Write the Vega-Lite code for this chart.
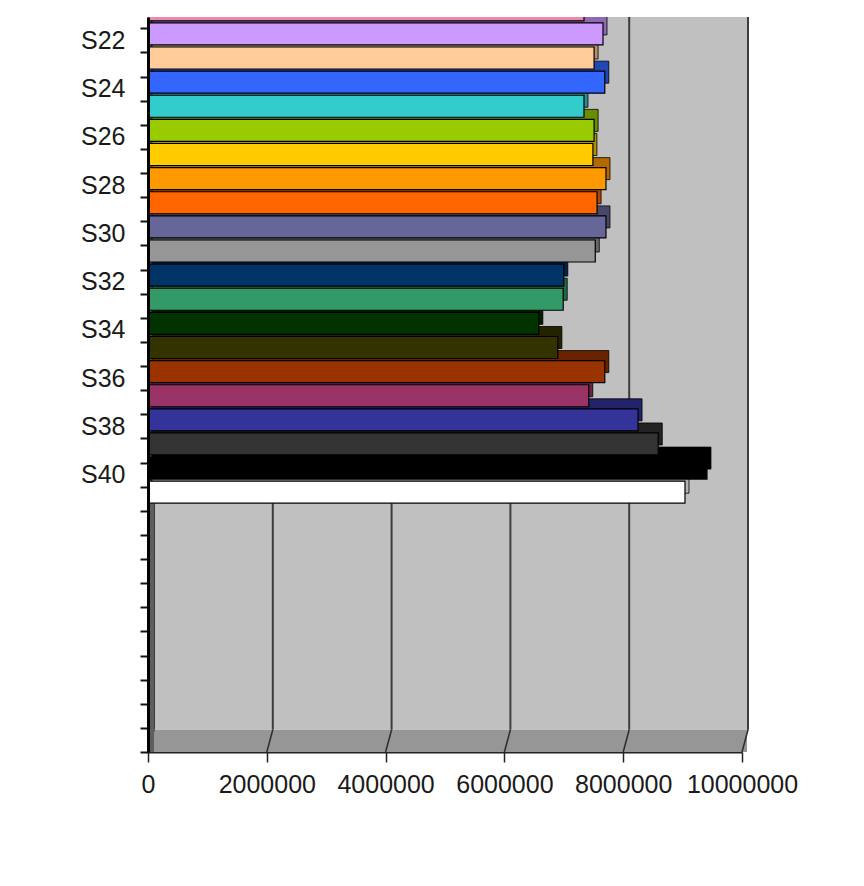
{
  "$schema": "https://vega.github.io/schema/vega-lite/v6.json",
  "width": 594,
  "height": 735,
  "autosize": {"type": "none"},
  "padding": {"left": 148, "top": 17, "right": 122, "bottom": 134},
  "background": "white",
  "config": {"view": {"stroke": null}, "font": "Liberation Sans"},
  "datasets": {
    "bars": [
      {"series": "S21", "n": 21, "value": 7340000},
      {"series": "S22", "n": 22, "value": 7660000},
      {"series": "S23", "n": 23, "value": 7510000},
      {"series": "S24", "n": 24, "value": 7690000},
      {"series": "S25", "n": 25, "value": 7340000},
      {"series": "S26", "n": 26, "value": 7510000},
      {"series": "S27", "n": 27, "value": 7490000},
      {"series": "S28", "n": 28, "value": 7710000},
      {"series": "S29", "n": 29, "value": 7560000},
      {"series": "S30", "n": 30, "value": 7710000},
      {"series": "S31", "n": 31, "value": 7530000},
      {"series": "S32", "n": 32, "value": 7000000},
      {"series": "S33", "n": 33, "value": 6990000},
      {"series": "S34", "n": 34, "value": 6580000},
      {"series": "S35", "n": 35, "value": 6900000},
      {"series": "S36", "n": 36, "value": 7690000},
      {"series": "S37", "n": 37, "value": 7420000},
      {"series": "S38", "n": 38, "value": 8250000},
      {"series": "S39", "n": 39, "value": 8590000},
      {"series": "S40", "n": 40, "value": 9410000},
      {"series": "S41", "n": 41, "value": 9040000}
    ],
    "grid": [
      {"g": 0}, {"g": 2000000}, {"g": 4000000}, {"g": 6000000}, {"g": 8000000}, {"g": 10000000}
    ]
  },
  "layer": [
    {
      "data": {"values": [{}]},
      "mark": {"type": "rect", "fill": "#c0c0c0", "xOffset": 6, "x2Offset": 6},
      "encoding": {
        "x": {"datum": 0, "type": "quantitative", "scale": {"domain": [0, 10000000], "nice": false, "zero": true, "padding": 0},
          "axis": {"title": null, "values": [0, 2000000, 4000000, 6000000, 8000000, 10000000], "tickCount": 20, "format": "d",
            "labelFontSize": 25, "labelColor": "#1a1a1a", "labelPadding": 10, "labelFlush": false, "labelOverlap": false,
            "tickSize": 10, "tickColor": "#222222", "tickWidth": 1.5, "domain": true, "domainColor": "#222222", "domainWidth": 2, "grid": false}},
        "x2": {"datum": 10000000},
        "y": {"datum": 21.03, "type": "quantitative", "scale": {"domain": [21.03, 51.5], "reverse": true, "nice": false, "zero": false, "padding": 0},
          "axis": {"title": null, "zindex": 1,
            "values": [21.5, 22.5, 23.5, 24.5, 25.5, 26.5, 27.5, 28.5, 29.5, 30.5, 31.5, 32.5, 33.5, 34.5, 35.5, 36.5, 37.5, 38.5, 39.5, 40.5, 41.5, 42.5, 43.5, 44.5, 45.5, 46.5, 47.5, 48.5, 49.5, 50.5, 51.5],
            "tickCount": 60,
            "labelExpr": "((datum.value - 0.5) % 2 == 0 && datum.value < 41) ? 'S' + (datum.value - 0.5) : ''",
            "labelOffset": -12, "labelFontSize": 25, "labelColor": "#1a1a1a", "labelPadding": 15, "labelOverlap": false, "labelFlush": false, "labelBound": false,
            "tickSize": 8, "tickWidth": 2, "tickColor": "#111111", "domain": true, "domainColor": "#000000", "domainWidth": 3, "grid": false}},
        "y2": {"datum": 50.58}
      }
    },
    {
      "data": {"name": "grid"},
      "mark": {"type": "rule", "color": "#3c3c3c", "strokeWidth": 2, "xOffset": 6},
      "encoding": {
        "x": {"field": "g", "type": "quantitative", "scale": {"domain": [0, 10000000], "nice": false, "zero": true, "padding": 0}},
        "y": {"datum": 21.03, "type": "quantitative", "scale": {"domain": [21.03, 51.5], "reverse": true, "nice": false, "zero": false, "padding": 0}},
        "y2": {"datum": 50.58}
      }
    },
    {
      "data": {"values": [{}]},
      "mark": {"type": "rect", "fill": "#969696", "x2Offset": 5},
      "encoding": {
        "x": {"datum": 0, "type": "quantitative", "scale": {"domain": [0, 10000000], "nice": false, "zero": true, "padding": 0}},
        "x2": {"datum": 10000000},
        "y": {"datum": 50.58, "type": "quantitative", "scale": {"domain": [21.03, 51.5], "reverse": true, "nice": false, "zero": false, "padding": 0}},
        "y2": {"datum": 51.5}
      }
    },
    {
      "data": {"name": "grid"},
      "mark": {"type": "rule", "color": "#2c2c2c", "strokeWidth": 1.5, "xOffset": 6},
      "encoding": {
        "x": {"field": "g", "type": "quantitative", "scale": {"domain": [0, 10000000], "nice": false, "zero": true, "padding": 0}},
        "x2": {"field": "g"},
        "y": {"datum": 50.58, "type": "quantitative", "scale": {"domain": [21.03, 51.5], "reverse": true, "nice": false, "zero": false, "padding": 0}},
        "y2": {"datum": 51.5}
      }
    },
    {
      "data": {"values": [{}]},
      "mark": {"type": "rect", "fill": "#5e5e5e", "x2Offset": 6},
      "encoding": {
        "x": {"datum": 0, "type": "quantitative", "scale": {"domain": [0, 10000000], "nice": false, "zero": true, "padding": 0}},
        "x2": {"datum": 0},
        "y": {"datum": 21.03, "type": "quantitative", "scale": {"domain": [21.03, 51.5], "reverse": true, "nice": false, "zero": false, "padding": 0}},
        "y2": {"datum": 51.5}
      }
    },
    {
      "data": {"name": "bars"},
      "mark": {"type": "bar", "orient": "horizontal", "height": 22, "yOffset": -16.5, "xOffset": 4, "x2Offset": 4, "clip": true},
      "encoding": {
        "x": {"field": "value", "type": "quantitative", "scale": {"domain": [0, 10000000], "nice": false, "zero": true, "padding": 0}},
        "x2": {"datum": 0},
        "y": {"field": "n", "type": "quantitative", "scale": {"domain": [21.03, 51.5], "reverse": true, "nice": false, "zero": false, "padding": 0}},
        "color": {"field": "series", "type": "nominal", "legend": null,
          "scale": {"domain": ["S21","S22","S23","S24","S25","S26","S27","S28","S29","S30","S31","S32","S33","S34","S35","S36","S37","S38","S39","S40","S41"],
            "range": ["#EE88AA","#CC99FF","#FFCC99","#3366FF","#33CCCC","#99CC00","#FFCC00","#FF9900","#FF6600","#666699","#969696","#003366","#339966","#003300","#333300","#993300","#993366","#333399","#333333","#000000","#FFFFFF"]}}
      }
    },
    {
      "data": {"name": "bars"},
      "mark": {"type": "bar", "orient": "horizontal", "height": 22, "yOffset": -16.5, "xOffset": 4, "x2Offset": 4, "clip": true, "fill": "#000000", "fillOpacity": 0.3, "stroke": "#000000", "strokeWidth": 0.8},
      "encoding": {
        "x": {"field": "value", "type": "quantitative", "scale": {"domain": [0, 10000000], "nice": false, "zero": true, "padding": 0}},
        "x2": {"datum": 0},
        "y": {"field": "n", "type": "quantitative", "scale": {"domain": [21.03, 51.5], "reverse": true, "nice": false, "zero": false, "padding": 0}}
      }
    },
    {
      "data": {"name": "bars"},
      "mark": {"type": "bar", "orient": "horizontal", "height": 22, "yOffset": -6.5, "clip": true, "stroke": "#000000", "strokeWidth": 1.2},
      "encoding": {
        "x": {"field": "value", "type": "quantitative", "scale": {"domain": [0, 10000000], "nice": false, "zero": true, "padding": 0}},
        "x2": {"datum": 0},
        "y": {"field": "n", "type": "quantitative", "scale": {"domain": [21.03, 51.5], "reverse": true, "nice": false, "zero": false, "padding": 0}},
        "color": {"field": "series", "type": "nominal", "legend": null}
      }
    }
  ]
}
